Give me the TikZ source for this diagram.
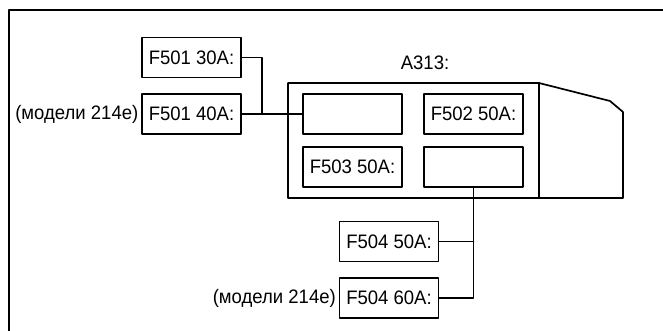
\documentclass[tikz,border=0pt]{standalone}
\usepackage{fontspec}
\setmainfont[FakeStretch=0.95]{Liberation Sans}
\usetikzlibrary{positioning}
\tikzset{
  fuse/.style={draw, minimum width=99pt, minimum height=40pt, inner sep=0pt, line width=1.7pt},
  note/.style={inner sep=2pt},
  every picture/.style={line cap=round, line join=round}
}

\begin{document}
\begin{tikzpicture}[x=1pt, y=-1pt, line width=1.7pt, font=\fontsize{19.5}{23}\selectfont]
  \useasboundingbox (0,0) rectangle (663,331);
  % frame, cut at right and bottom
  \draw (9,331) -- (9,10) -- (663,10);

  % fuse holder A313
  \draw (288,83) -- (539,83) -- (610,101) -- (623,112) -- (623,198) -- (288,198) -- cycle;
  \draw (539,83) -- (539,198);
  \node (a313) at (425,63) {A313:};

  \node[fuse] (slotA) at (352.5,114) {};
  \node[fuse] (slotB) at (473.5,114) {F502 50A:};
  \node[fuse] (slotC) at (352.5,167) {F503 50A:};
  \node[fuse] (slotD) at (473.5,167) {};

  \node[fuse] (f501a) at (191.5,57.5) {F501 30A:};
  \node[fuse] (f501b) at (191.5,114) {F501 40A:};
  \node[note, left=0pt of f501b] (m1) {(модели 214е)};

  \node[fuse] (f504a) at (389,241.5) {F504 50A:};
  \node[fuse] (f504b) at (389,298) {F504 60A:};
  \node[note, left=0pt of f504b] (m2) {(модели 214е)};

  \coordinate (jA) at (262,114);
  \draw (f501a.east) -| (jA);
  \draw (f501b.east) -- (slotA.west);
  \draw (slotD.south) |- (f504b.east);
  \draw (f504a.east) -- (f504a.east -| slotD.south);
\end{tikzpicture}
\end{document}
